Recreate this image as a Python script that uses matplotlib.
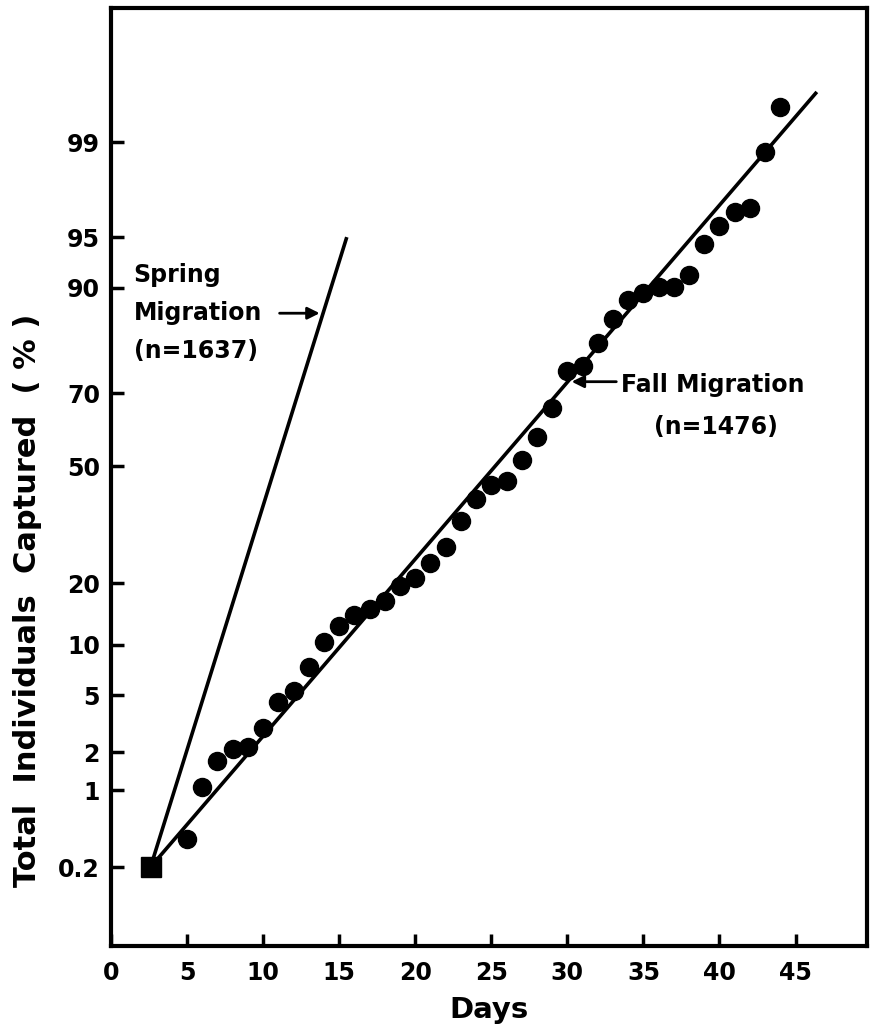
import numpy as np
import matplotlib
matplotlib.use("Agg")
import matplotlib.pyplot as plt
from statistics import NormalDist

# cumulative % captured, fall migration (one point per day)
fall_days = [5, 6, 7, 8, 9, 10, 11, 12, 13, 14, 15, 16, 17, 18, 19, 20, 21, 22, 23, 24,
             25, 26, 27, 28, 29, 30, 31, 32, 33, 34, 35, 36, 37, 38, 39, 40, 41, 42, 43, 44]
fall_pct = [0.37, 1.07, 1.7, 2.1, 2.2, 3.0, 4.5, 5.3, 7.5, 10.4, 12.6, 14.3, 15.2, 16.7,
            19.4, 21.2, 24.3, 28.2, 34.6, 40.6, 44.6, 45.7, 51.7, 58.3, 66.2, 75.3, 76.4,
            81.2, 85.5, 88.4, 89.3, 90.1, 90.1, 91.5, 94.5, 95.8, 96.6, 96.8, 98.8, 99.51]

start_day, start_pct = 2.6, 0.2
fall_line_days = [2.6, 46.4]
fall_line_pct = [0.2, 99.64]
spring_line_days = [2.6, 15.5]
spring_line_pct = [0.2, 95.0]

yticks = [0.2, 1, 2, 5, 10, 20, 50, 70, 90, 95, 99]
ytick_labels = ["0.2", "1", "2", "5", "10", "20", "50", "70", "90", "95", "99"]
xticks = [0, 5, 10, 15, 20, 25, 30, 35, 40, 45]

nd = NormalDist()


def _probit(p):
    if not np.isfinite(p):
        return np.nan
    return nd.inv_cdf(min(max(p / 100.0, 1e-9), 1 - 1e-9))


def _cdf(z):
    if not np.isfinite(z):
        return np.nan
    return nd.cdf(z) * 100.0


fwd = np.vectorize(_probit, otypes=[float])
inv = np.vectorize(_cdf, otypes=[float])

plt.rcParams['font.family'] = 'DejaVu Sans'
plt.rcParams['font.weight'] = 'bold'

fig = plt.figure(figsize=(8.72, 10.33), dpi=100)
ax = fig.add_axes([0.1273, 0.0842, 0.8670, 0.9081])
ax.set_yscale('function', functions=(fwd, inv))

ax.plot(spring_line_days, spring_line_pct, color='black', lw=2.6, solid_capstyle='butt')
ax.plot(fall_line_days, fall_line_pct, color='black', lw=2.6, solid_capstyle='butt')
ax.plot(fall_days, fall_pct, 'o', color='black', ms=13)
ax.plot([start_day], [start_pct], 's', color='black', ms=14.5)

ax.set_xlim(0, 49.7)
ax.set_ylim(0.0285, 99.95)
ax.set_yticks(yticks)
ax.set_yticklabels(ytick_labels)
ax.yaxis.set_minor_locator(matplotlib.ticker.NullLocator())
ax.set_xticks(xticks)

for s in ax.spines.values():
    s.set_linewidth(3)
ax.tick_params(direction='in', length=9, width=2.5, labelsize=17)
ax.tick_params(axis='y', pad=8)
ax.tick_params(axis='x', pad=11)

ax.set_xlabel("Days", fontsize=21, fontweight='bold', labelpad=8)
fig.text(0.032, 1 - 600 / 1033, "Total  Individuals  Captured  ( % )", rotation=90,
         fontsize=22, fontweight='bold', ha='center', va='center')

ax.text(0.030, 0.675, "Spring\nMigration\n(n=1637)", transform=ax.transAxes,
        fontsize=17, ha='left', va='center', linespacing=1.75)
ax.annotate("", xy=(13.9, 86.4), xytext=(10.9, 86.4),
            arrowprops=dict(arrowstyle='-|>', color='black', lw=2, mutation_scale=18))

ax.text(0.675, 0.598, "Fall Migration", transform=ax.transAxes,
        fontsize=17, ha='left', va='center')
ax.text(0.800, 0.553, "(n=1476)", transform=ax.transAxes,
        fontsize=17, ha='center', va='center')
ax.annotate("", xy=(30.1, 72.8), xytext=(33.4, 72.8),
            arrowprops=dict(arrowstyle='-|>', color='black', lw=2, mutation_scale=18))

fig.savefig("out.png", dpi=100)
